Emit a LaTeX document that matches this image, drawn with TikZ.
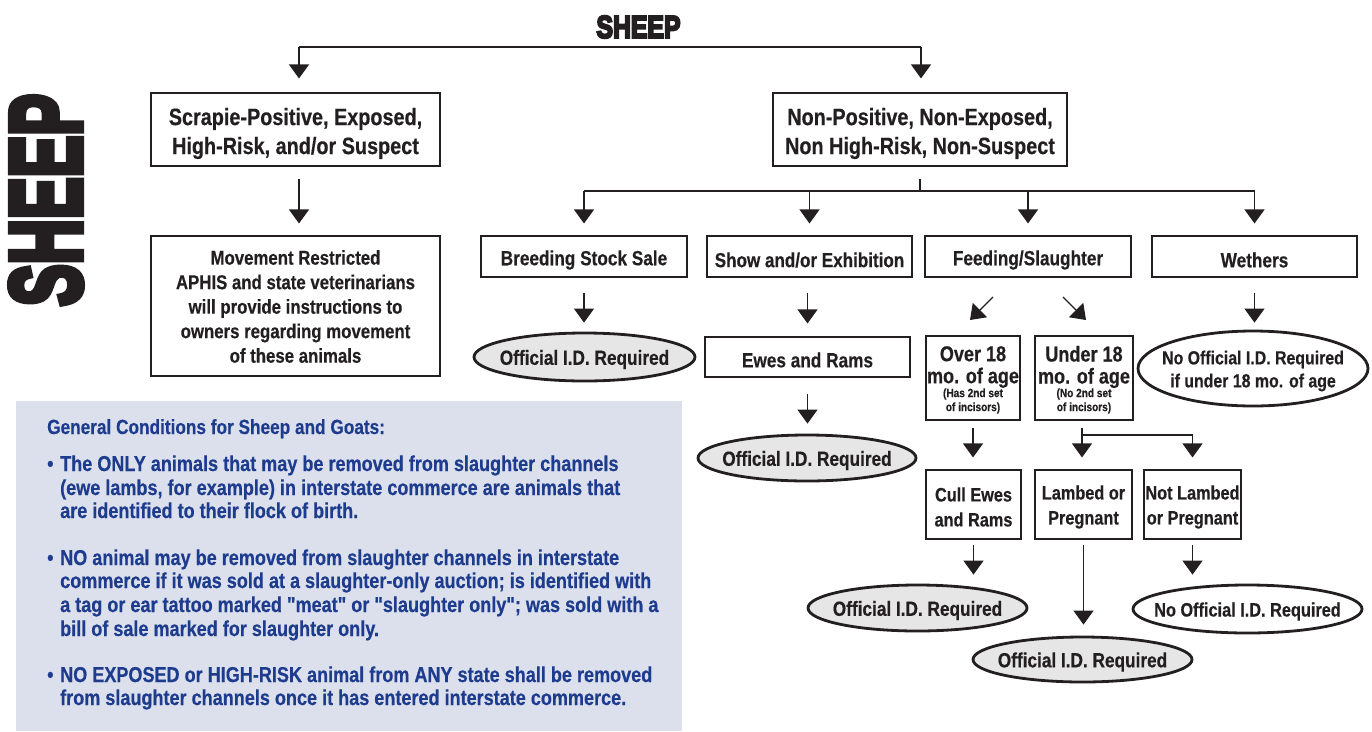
\documentclass[tikz,border=0pt]{standalone}
\usepackage{graphicx}
\usepackage{fontspec}
\setmainfont{Liberation Sans}[FakeStretch=0.84, FakeBold=0.4, Ligatures=TeXOff]
\newfontfamily\heavyfont{Liberation Sans}[FakeBold=7]
\usetikzlibrary{arrows.meta,shapes.geometric}
\definecolor{ink}{HTML}{231F20}
\definecolor{bluetxt}{HTML}{1E3C8E}
\definecolor{bluebg}{HTML}{DCE0ED}
\definecolor{ovalgray}{HTML}{E6E6E6}
\newcommand{\fsz}[2]{\fontsize{#1}{#2}\selectfont\bfseries}
% name, x, y, w, h, dy, font, text
\newcommand{\tbox}[8]{%
  \node[box, minimum width=#4pt, minimum height=#5pt] (#1) at (#2,#3) {};
  \node[lbl, font=#7] (#1-t) at (#2,#3+#6) {#8};}
% style, name, x, y, w, h, dy, font, text
\newcommand{\toval}[9]{%
  \node[#1, minimum width=#5pt, minimum height=#6pt] (#2) at (#3,#4) {};
  \node[lbl, font=#8] (#2-t) at (#3,#4+#7) {#9};}
\begin{document}
\begin{tikzpicture}[x=1pt,y=-1pt,
  box/.style={draw=ink, line width=1.1pt, fill=white, inner sep=0pt},
  oval/.style={ellipse, draw=ink, line width=2.8pt, fill=ovalgray, inner sep=0pt},
  ovalw/.style={oval, fill=white},
  arr/.style={draw=ink, line width=1.1pt, -{Triangle[width=20pt,length=14pt]}},
  con/.style={draw=ink, line width=1.1pt},
  btxt/.style={text=bluetxt, inner sep=0pt, anchor=base west, font=\fsz{21.5}{24}},
  lbl/.style={inner sep=0pt, align=center, text=ink}]
\useasboundingbox (0,0) rectangle (1372,731);
% general conditions panel
\fill[bluebg] (16,401) rectangle (682,731);
% titles
\node[inner sep=0pt, text=ink] (title) at (638.5,27) {\resizebox{84pt}{22pt}{\heavyfont\bfseries SHEEP}};
\node[inner sep=0pt, rotate=90, text=ink] (side) at (46,200) {\resizebox{212pt}{70pt}{\heavyfont\bfseries SHEEP}};
% boxes
\tbox{sp}{295.5}{129.5}{289}{73}{4}{\fsz{23.6}{29}}{Scrapie-Positive, Exposed,\\High-Risk, and/or Suspect}
\tbox{mr}{295.5}{306}{289}{140}{0.5}{\fsz{20}{24.5}}{Movement Restricted\\APHIS and state veterinarians\\will provide instructions to\\owners regarding movement\\of these animals}
\tbox{np}{920}{129.5}{294}{73}{4}{\fsz{23.6}{29}}{Non-Positive, Non-Exposed,\\Non High-Risk, Non-Suspect}
\tbox{bs}{584}{256.5}{206}{41}{3.5}{\fsz{20.5}{24}}{Breeding Stock Sale}
\tbox{se}{809.5}{256.5}{205}{41}{3.5}{\fsz{20.3}{24}}{Show and/or Exhibition}
\tbox{fs}{1028}{256.5}{206}{41}{3.5}{\fsz{20.5}{24}}{Feeding/Slaughter}
\tbox{we}{1254.5}{256.5}{205}{41}{3.5}{\fsz{20.5}{24}}{Wethers}
\tbox{er}{807.5}{357}{205}{40}{3}{\fsz{20.5}{24}}{Ewes and Rams}
\tbox{o18}{973}{378}{94}{84}{-11}{\fsz{21.5}{22}}{Over 18\\mo. of age}
\node[lbl, font=\fsz{12}{14}] (o18s) at (973,401) {(Has 2nd set\\of incisors)};
\tbox{u18}{1084}{378}{98}{84}{-11}{\fsz{21.5}{22}}{Under 18\\mo. of age}
\node[lbl, font=\fsz{12}{14}] (u18s) at (1084,401) {(No 2nd set\\of incisors)};
\tbox{cull}{973.5}{504.5}{95}{69}{2.5}{\fsz{19.4}{25}}{Cull Ewes\\and Rams}
\tbox{lp}{1083.5}{504.5}{97}{69}{2.5}{\fsz{19.4}{25}}{Lambed or\\Pregnant}
\tbox{nl}{1192.5}{504.5}{97}{69}{2.5}{\fsz{19.4}{25}}{Not Lambed\\or Pregnant}
% ovals
\toval{oval}{e1}{584.5}{357}{221}{48}{2.5}{\fsz{20.5}{24}}{Official I.D. Required}
\toval{oval}{e2}{807}{458}{218}{46}{2.5}{\fsz{20.5}{24}}{Official I.D. Required}
\toval{ovalw}{e3}{1253}{368.5}{230}{75}{2.5}{\fsz{18.9}{23}}{No Official I.D. Required\\if under 18 mo. of age}
\toval{oval}{e4}{917.5}{608}{219}{46}{2.5}{\fsz{20.5}{24}}{Official I.D. Required}
\toval{oval}{e5}{1082.5}{659.5}{219}{45}{2.5}{\fsz{20.5}{24}}{Official I.D. Required}
\toval{ovalw}{e6}{1247.5}{609}{229}{48}{2.5}{\fsz{19.4}{24}}{No Official I.D. Required}
% connectors
\coordinate (tl) at (299,47);
\coordinate (tr) at (921,47);
\draw[con] (tl) -- (tr);
\draw[arr, shorten >=14pt] (tl) -- (tl |- sp.north);
\draw[arr, shorten >=14pt] (tr) -- (tr |- np.north);
\draw[arr, shorten <=12pt, shorten >=12pt] (sp.south -| tl) -- (mr.north -| tl);
\coordinate (hb) at (920,191);
\draw[con, shorten <=12pt] (np.south) -- (hb);
\draw[con] (bs.north |- hb) -- (we.north |- hb);
\foreach \n in {bs,se,fs,we} \draw[arr, shorten >=12pt] (\n.north |- hb) -- (\n.north);
\draw[arr, shorten <=15pt, shorten >=9pt] (bs.south) -- (bs.south |- e1.north);
\draw[arr, shorten <=15pt, shorten >=13pt] (se.south -| er.north) -- (er.north);
\draw[arr, shorten <=16pt, shorten >=10pt] (er.south) -- (er.south |- e2.north);
\draw[arr, shorten <=15pt, shorten >=7pt] (we.south) -- (we.south |- e3.north);
\coordinate (d1a) at (993,297);
\coordinate (d1b) at (970,320);
\coordinate (d2a) at (1063,297);
\coordinate (d2b) at (1086,320);
\draw[arr] (d1a) -- (d1b);
\draw[arr] (d2a) -- (d2b);
\draw[arr, shorten <=7pt, shorten >=12pt] (o18.south) -- (o18.south |- cull.north);
\coordinate (ub) at (1082,435);
\draw[con, shorten <=7pt] (u18.south -| ub) -- (ub);
\draw[con] (ub) -- (nl.north |- ub);
\draw[arr, shorten >=12pt] (ub) -- (lp.north -| ub);
\draw[arr, shorten >=12pt] (nl.north |- ub) -- (nl.north);
\draw[arr, shorten <=5pt, shorten >=9pt] (cull.south) -- (cull.south |- e4.north);
\draw[arr, shorten <=5pt, shorten >=11pt] (lp.south) -- (lp.south |- e5.north);
\draw[arr, shorten <=5pt, shorten >=9pt] (nl.south) -- (nl.south |- e6.north);
% general conditions text
\node[btxt, font=\fsz{20.5}{24}] (gc) at (47,434) {General Conditions for Sheep and Goats:};
\node[btxt] (k1) at (47,471) {•};
\node[btxt] (k2) at (47,565) {•};
\node[btxt] (k3) at (47,682) {•};
\node[btxt] (l1) at (60,471) {The ONLY animals that may be removed from slaughter channels};
\node[btxt] (l2) at (60,495) {(ewe lambs, for example) in interstate commerce are animals that};
\node[btxt] (l3) at (60,518) {are identified to their flock of birth.};
\node[btxt] (l4) at (60,565) {NO animal may be removed from slaughter channels in interstate};
\node[btxt] (l5) at (60,588) {commerce if it was sold at a slaughter-only auction; is identified with};
\node[btxt] (l6) at (60,612) {a tag or ear tattoo marked "meat" or "slaughter only"; was sold with a};
\node[btxt] (l7) at (60,636) {bill of sale marked for slaughter only.};
\node[btxt] (l8) at (60,682) {NO EXPOSED or HIGH-RISK animal from ANY state shall be removed};
\node[btxt] (l9) at (60,705) {from slaughter channels once it has entered interstate commerce.};
\end{tikzpicture}
\end{document}
